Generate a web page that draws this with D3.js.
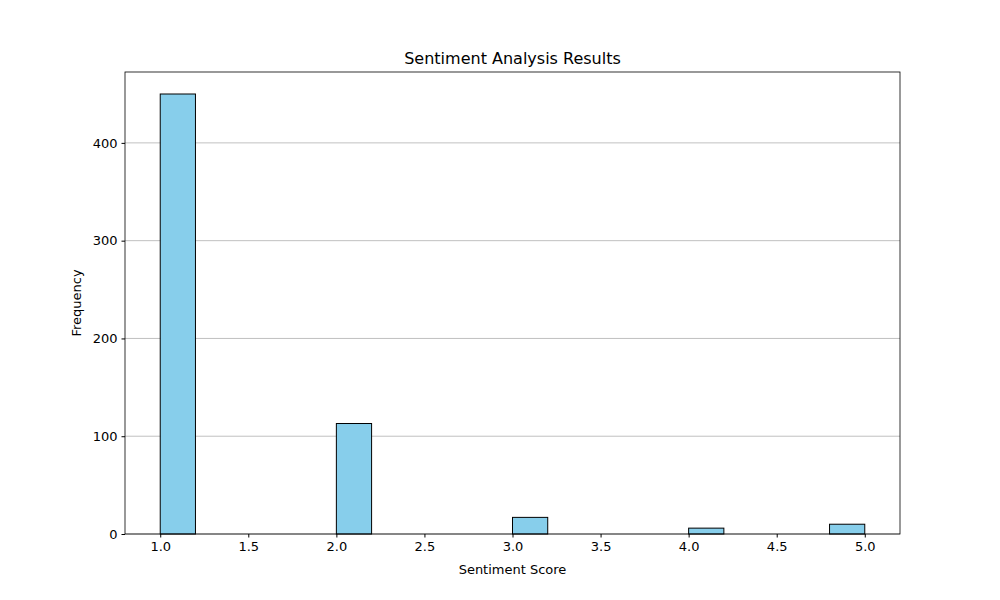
<!DOCTYPE html>
<html><head><meta charset="utf-8">
<script src="https://cdn.jsdelivr.net/npm/d3@7"></script>
<style>body{margin:0;background:#fff;font-family:"DejaVu Sans",sans-serif;}</style>
</head><body><svg id="c" width="1000" height="600"></svg>
<script>
const binStarts = [1.0, 2.0, 3.0, 4.0, 4.8];
const binWidth = 0.2;
const counts = [450, 113, 17, 6, 10];
const xTicks = [1.0, 1.5, 2.0, 2.5, 3.0, 3.5, 4.0, 4.5, 5.0];
const yTicks = [0, 100, 200, 300, 400];

const svg = d3.select("#c");
const L = 125, R = 900, T = 72, B = 534;
const x = d3.scaleLinear().domain([0.8, 5.2]).range([L, R]);
const y = d3.scaleLinear().domain([0, 472.5]).range([B, T]);

// grid
svg.append("g").selectAll("line").data(yTicks).join("line")
  .attr("x1", L).attr("x2", R).attr("y1", d => y(d)).attr("y2", d => y(d))
  .attr("stroke", "#b0b0b0").attr("stroke-width", 0.8);

svg.append("g").selectAll("rect").data(binStarts).join("rect")
  .attr("x", d => x(d)).attr("width", d => x(d + binWidth) - x(d))
  .attr("y", (d, i) => y(counts[i])).attr("height", (d, i) => y(0) - y(counts[i]))
  .attr("fill", "#87ceeb").attr("stroke", "#000").attr("stroke-width", 1);

svg.append("rect").attr("x", L).attr("y", T).attr("width", R - L).attr("height", B - T)
  .attr("fill", "none").attr("stroke", "#000").attr("stroke-width", 0.8);

const xa = svg.append("g").attr("transform", `translate(0,${B})`)
  .call(d3.axisBottom(x).tickValues(xTicks).tickFormat(d3.format(".1f")).tickSizeOuter(0).tickSize(3.5).tickPadding(4));
const ya = svg.append("g").attr("transform", `translate(${L},0)`)
  .call(d3.axisLeft(y).tickValues(yTicks).tickSizeOuter(0).tickSize(3.5).tickPadding(4));
[xa, ya].forEach(a => {
  a.select(".domain").remove();
  a.selectAll("text").attr("font-size", 13).attr("font-family", "DejaVu Sans").attr("fill", "#000");
});

svg.append("text").attr("x", (L + R) / 2).attr("y", 64).attr("text-anchor", "middle")
  .attr("font-size", 16).text("Sentiment Analysis Results");
svg.append("text").attr("x", (L + R) / 2).attr("y", 574).attr("text-anchor", "middle")
  .attr("font-size", 13).text("Sentiment Score");
svg.append("text").attr("transform", `translate(81,${(T + B) / 2}) rotate(-90)`).attr("text-anchor", "middle")
  .attr("font-size", 13).text("Frequency");
</script></body></html>
